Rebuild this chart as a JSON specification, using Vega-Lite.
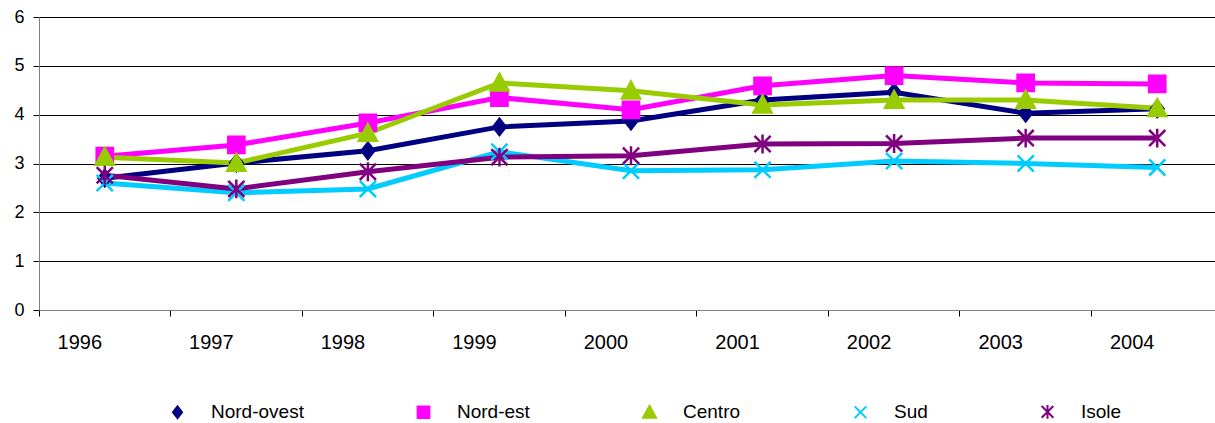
{
  "$schema": "https://vega.github.io/schema/vega-lite/v6.json",
  "autosize": "none",
  "padding": {"left": 39, "top": 17, "right": 0, "bottom": 113},
  "width": 1176,
  "height": 293,
  "config": {
    "view": {"stroke": null},
    "font": "Liberation Sans"
  },
  "data": {
    "values": [
      {"year": "1996", "region": "Nord-ovest", "value": 2.70},
      {"year": "1997", "region": "Nord-ovest", "value": 3.01},
      {"year": "1998", "region": "Nord-ovest", "value": 3.26},
      {"year": "1999", "region": "Nord-ovest", "value": 3.75},
      {"year": "2000", "region": "Nord-ovest", "value": 3.87},
      {"year": "2001", "region": "Nord-ovest", "value": 4.30},
      {"year": "2002", "region": "Nord-ovest", "value": 4.46},
      {"year": "2003", "region": "Nord-ovest", "value": 4.03},
      {"year": "2004", "region": "Nord-ovest", "value": 4.12},
      {"year": "1996", "region": "Nord-est", "value": 3.15},
      {"year": "1997", "region": "Nord-est", "value": 3.38},
      {"year": "1998", "region": "Nord-est", "value": 3.83},
      {"year": "1999", "region": "Nord-est", "value": 4.35},
      {"year": "2000", "region": "Nord-est", "value": 4.10},
      {"year": "2001", "region": "Nord-est", "value": 4.59},
      {"year": "2002", "region": "Nord-est", "value": 4.80},
      {"year": "2003", "region": "Nord-est", "value": 4.65},
      {"year": "2004", "region": "Nord-est", "value": 4.63},
      {"year": "1996", "region": "Centro", "value": 3.13},
      {"year": "1997", "region": "Centro", "value": 3.01},
      {"year": "1998", "region": "Centro", "value": 3.62},
      {"year": "1999", "region": "Centro", "value": 4.65},
      {"year": "2000", "region": "Centro", "value": 4.49},
      {"year": "2001", "region": "Centro", "value": 4.20},
      {"year": "2002", "region": "Centro", "value": 4.30},
      {"year": "2003", "region": "Centro", "value": 4.30},
      {"year": "2004", "region": "Centro", "value": 4.13},
      {"year": "1996", "region": "Sud", "value": 2.60},
      {"year": "1997", "region": "Sud", "value": 2.40},
      {"year": "1998", "region": "Sud", "value": 2.48},
      {"year": "1999", "region": "Sud", "value": 3.24},
      {"year": "2000", "region": "Sud", "value": 2.85},
      {"year": "2001", "region": "Sud", "value": 2.87},
      {"year": "2002", "region": "Sud", "value": 3.05},
      {"year": "2003", "region": "Sud", "value": 3.00},
      {"year": "2004", "region": "Sud", "value": 2.92},
      {"year": "1996", "region": "Isole", "value": 2.76},
      {"year": "1997", "region": "Isole", "value": 2.48},
      {"year": "1998", "region": "Isole", "value": 2.83},
      {"year": "1999", "region": "Isole", "value": 3.13},
      {"year": "2000", "region": "Isole", "value": 3.16},
      {"year": "2001", "region": "Isole", "value": 3.40},
      {"year": "2002", "region": "Isole", "value": 3.41},
      {"year": "2003", "region": "Isole", "value": 3.52},
      {"year": "2004", "region": "Isole", "value": 3.52}
    ]
  },
  "encoding": {
    "x": {
      "field": "year", "type": "nominal",
      "scale": {"type": "band", "range": [0, 1184], "paddingInner": 0, "paddingOuter": 0},
      "axis": {
        "title": null, "labelAngle": 0, "bandPosition": 0, "labelOffset": -25,
        "labelFont": "Liberation Sans", "labelFontSize": 20, "labelColor": "#000",
        "labelPadding": 16, "tickSize": 6, "tickColor": "#000", "tickWidth": 1,
        "domainColor": "#808080", "domainWidth": 1, "grid": false
      }
    },
    "y": {
      "field": "value", "type": "quantitative",
      "scale": {"domain": [0, 6], "nice": false, "zero": true},
      "axis": {
        "title": null, "values": [0, 1, 2, 3, 4, 5, 6], "format": "d",
        "labelFont": "Liberation Sans", "labelFontSize": 18, "labelColor": "#000",
        "labelPadding": 9, "tickSize": 6, "tickColor": "#000",
        "domainColor": "#808080", "domainWidth": 1,
        "grid": true, "gridColor": "#000", "gridWidth": 1
      }
    }
  },
  "layer": [
    {
      "mark": {"type": "line", "strokeWidth": 5},
      "encoding": {
        "color": {
          "field": "region", "type": "nominal",
          "scale": {
            "domain": ["Nord-ovest", "Nord-est", "Centro", "Sud", "Isole"],
            "range": ["#000080", "#FF00FF", "#99CC00", "#00CCFF", "#800080"]
          },
          "legend": {
            "orient": "none", "legendX": 104, "legendY": 385,
            "direction": "horizontal", "columns": 5, "title": null,
            "padding": 0, "symbolSize": 169, "symbolStrokeWidth": 2,
            "symbolOffset": 25, "labelOffset": 24, "columnPadding": 85,
            "labelFont": "Liberation Sans", "labelFontSize": 19, "labelColor": "#000"
          }
        }
      }
    },
    {
      "mark": {"type": "point", "filled": true, "size": 324, "strokeWidth": 2.5, "opacity": 1},
      "encoding": {
        "fill": {
          "field": "region", "type": "nominal", "legend": null,
          "scale": {
            "domain": ["Nord-ovest", "Nord-est", "Centro", "Sud", "Isole"],
            "range": ["#000080", "#FF00FF", "#99CC00", "#00CCFF", "#800080"]
          }
        },
        "stroke": {
          "field": "region", "type": "nominal", "legend": null,
          "scale": {
            "domain": ["Nord-ovest", "Nord-est", "Centro", "Sud", "Isole"],
            "range": ["#000080", "#FF00FF", "#99CC00", "#00CCFF", "#800080"]
          }
        },
        "shape": {
          "field": "region", "type": "nominal", "legend": null,
          "scale": {
            "domain": ["Nord-ovest", "Nord-est", "Centro", "Sud", "Isole"],
            "range": [
              "M0,-0.9L0.7,0L0,0.9L-0.7,0Z",
              "M-0.9,-0.9H0.9V0.9H-0.9Z",
              "M0,-1L1,0.85H-1Z",
              "M-0.9,-0.9L0.9,0.9M-0.9,0.9L0.9,-0.9",
              "M-0.9,-0.9L0.9,0.9M-0.9,0.9L0.9,-0.9M0,-1.05V1.05"
            ]
          }
        }
      }
    }
  ]
}
